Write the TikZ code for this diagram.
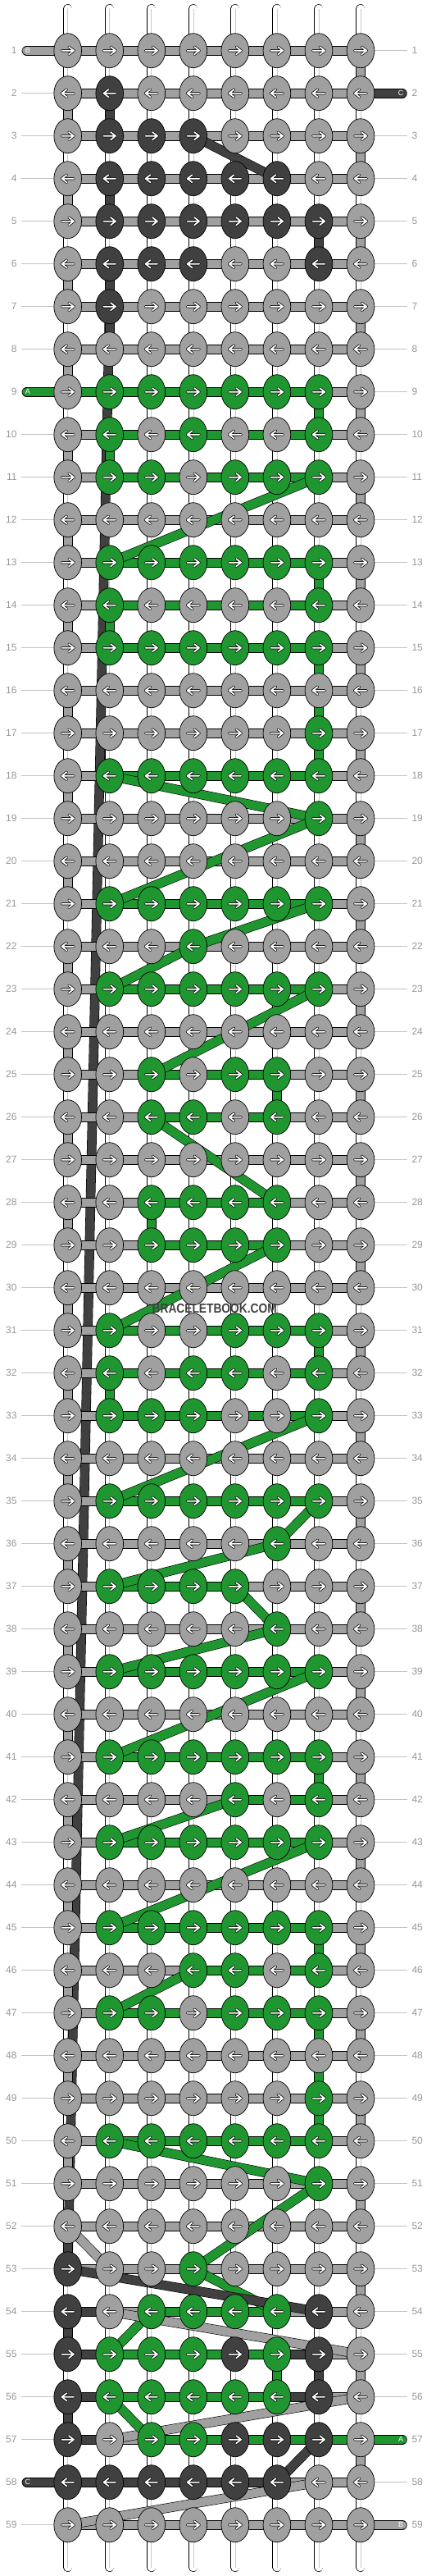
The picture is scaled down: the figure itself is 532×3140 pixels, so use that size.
\documentclass[tikz,border=0pt]{standalone}
\usepackage{fontspec}
\setmainfont{Liberation Sans}
\usetikzlibrary{shapes.geometric}
\definecolor{kg}{RGB}{160,160,160}
\definecolor{kd}{RGB}{64,64,64}
\definecolor{kn}{RGB}{31,150,48}
\definecolor{lblgray}{RGB}{150,150,150}
\definecolor{guide}{RGB}{195,195,195}
\definecolor{wline}{RGB}{200,200,200}
\pgfdeclarelayer{l1}
\pgfdeclarelayer{l2}
\pgfdeclarelayer{l3}
\pgfsetlayers{l1,l2,l3,main}
\begin{document}
\begin{tikzpicture}[x=1pt,y=-1pt,
  knot/.style={ellipse,draw=black,line width=0.7pt,minimum width=33.7pt,minimum height=42pt,inner sep=0pt},
  thr/.style={draw=black,line width=0.6pt,double=#1,double distance=10.4pt},
  lbl/.style={text=lblgray,font=\fontsize{12}{12}\selectfont,inner sep=0pt},
  endtxt/.style={text=white,font=\fontsize{9}{9}\selectfont,inner sep=0pt},
  guideline/.style={draw=guide,line width=1pt},
  warp/.style={draw=black,line width=0.6pt,double=white,double distance=9.8pt,line cap=round},
  arrowout/.style={draw=black,line width=3.2pt,line cap=round,line join=round},
  arrowin/.style={draw=white,line width=1.7pt,line cap=round,line join=round}
]
\useasboundingbox (0,0) rectangle (532,3140);

% warp threads (white verticals)
\begin{pgfonlayer}{l1}
\foreach \i in {1,...,8} {
  \pgfmathsetmacro\xx{82.7+51.04*(\i-1)}
  \coordinate (wt-\i) at (\xx,10.5);
  \coordinate (wb-\i) at (\xx,3129.5);
  \draw[warp] (wt-\i) -- (wb-\i);
  \draw[wline,line width=0.6pt] (wt-\i) -- (wb-\i);
}
\end{pgfonlayer}

% knots, labels and horizontal segments
\foreach \r/\K/\H in {
1/{g,g,g,g,g,g,g,g}/{g,g,g,g,g,g,g},
2/{g,d,g,g,g,g,g,g}/{g,g,g,g,g,g,g},
3/{g,d,d,d,g,g,g,g}/{g,g,g,g,g,g,g},
4/{g,d,d,d,d,d,g,g}/{g,g,g,g,g,g,g},
5/{g,d,d,d,d,d,d,g}/{g,g,g,g,g,g,g},
6/{g,d,d,d,g,g,d,g}/{g,g,g,g,g,g,g},
7/{g,d,g,g,g,g,g,g}/{g,g,g,g,g,g,g},
8/{g,g,g,g,g,g,g,g}/{g,g,g,g,g,g,g},
9/{g,n,n,n,n,n,n,g}/{n,n,n,n,n,n,g},
10/{g,n,g,n,g,g,n,g}/{g,n,n,n,n,n,g},
11/{g,n,n,g,n,n,n,g}/{g,n,n,n,n,n,g},
12/{g,g,g,g,g,g,g,g}/{g,g,g,g,g,g,g},
13/{g,n,n,n,n,n,n,g}/{g,n,n,n,n,n,g},
14/{g,n,g,g,g,g,n,g}/{g,n,n,n,n,n,g},
15/{g,n,n,n,n,n,n,g}/{g,n,n,n,n,n,g},
16/{g,g,g,g,g,g,g,g}/{g,g,g,g,g,g,g},
17/{g,g,g,g,g,g,n,g}/{g,g,g,g,g,g,g},
18/{g,n,n,n,n,n,n,g}/{g,n,n,n,n,n,g},
19/{g,g,g,g,g,g,n,g}/{g,g,g,g,g,g,g},
20/{g,g,g,g,g,g,g,g}/{g,g,g,g,g,g,g},
21/{g,n,n,n,n,n,n,g}/{g,n,n,n,n,n,g},
22/{g,g,g,n,g,g,g,g}/{g,g,g,g,g,g,g},
23/{g,n,n,n,n,n,n,g}/{g,n,n,n,n,n,g},
24/{g,g,g,g,g,g,g,g}/{g,g,g,g,g,g,g},
25/{g,g,n,g,n,n,g,g}/{g,g,n,n,n,g,g},
26/{g,g,n,n,g,n,g,g}/{g,g,n,n,n,g,g},
27/{g,g,g,g,g,g,g,g}/{g,g,g,g,g,g,g},
28/{g,g,n,n,n,n,g,g}/{g,g,n,n,n,g,g},
29/{g,g,n,n,n,n,g,g}/{g,g,n,n,n,g,g},
30/{g,g,g,g,g,g,g,g}/{g,g,g,g,g,g,g},
31/{g,n,g,g,n,n,n,g}/{g,n,n,n,n,n,g},
32/{g,n,g,n,n,g,n,g}/{g,n,n,n,n,n,g},
33/{g,n,n,n,g,g,n,g}/{g,n,n,n,n,n,g},
34/{g,g,g,g,g,g,g,g}/{g,g,g,g,g,g,g},
35/{g,n,n,n,n,n,n,g}/{g,n,n,n,n,n,g},
36/{g,g,g,g,g,n,g,g}/{g,g,g,g,g,g,g},
37/{g,n,n,n,n,g,g,g}/{g,n,n,n,g,g,g},
38/{g,g,g,g,g,n,g,g}/{g,g,g,g,g,g,g},
39/{g,n,n,n,n,n,n,g}/{g,n,n,n,n,n,g},
40/{g,g,g,g,g,g,g,g}/{g,g,g,g,g,g,g},
41/{g,n,n,n,n,n,n,g}/{g,n,n,n,n,n,g},
42/{g,g,g,g,n,g,n,g}/{g,g,g,g,n,n,g},
43/{g,n,n,n,n,n,n,g}/{g,n,n,n,n,n,g},
44/{g,g,g,g,g,g,g,g}/{g,g,g,g,g,g,g},
45/{g,n,n,n,n,n,n,g}/{g,n,n,n,n,n,g},
46/{g,g,g,n,n,g,n,g}/{g,g,g,n,n,n,g},
47/{g,n,n,g,n,n,n,g}/{g,n,n,n,n,n,g},
48/{g,g,g,g,g,g,g,g}/{g,g,g,g,g,g,g},
49/{g,g,g,g,g,g,n,g}/{g,g,g,g,g,g,g},
50/{g,n,n,n,n,n,n,g}/{g,n,n,n,n,n,g},
51/{g,g,g,g,g,g,n,g}/{g,g,g,g,g,g,g},
52/{g,g,g,g,g,g,g,g}/{g,g,g,g,g,g,g},
53/{d,g,g,n,g,g,g,g}/{g,g,g,g,g,g,g},
54/{d,g,n,n,n,n,d,g}/{d,g,n,n,n,g,g},
55/{d,n,n,n,d,n,d,g}/{d,n,n,n,n,d,g},
56/{d,n,n,n,n,n,d,g}/{d,n,n,n,n,d,g},
57/{d,g,n,n,d,d,d,g}/{d,g,n,n,n,n,n},
58/{d,d,d,d,d,d,g,g}/{d,d,d,d,d,g,g},
59/{g,g,g,g,g,g,g,g}/{g,g,g,g,g,g,g}} {
  \pgfmathsetmacro\yy{61.7+52*(\r-1)}
  \ifodd\r\relax \def\dir{1}\else \def\dir{-1}\fi
  \foreach \c [count=\i] in \K {
    \pgfmathsetmacro\xx{82.7+51.04*(\i-1)}
    \node[knot,fill=k\c] (k-\r-\i) at (\xx,\yy) {};
    \begin{scope}[shift={(\xx,\yy)},xscale=\dir]
      \draw[arrowout] (-7.3,0) -- (7.3,0) (1.3,-4.6) -- (7.3,0) -- (1.3,4.6);
      \draw[arrowin] (-7.3,0) -- (7.3,0) (1.3,-4.6) -- (7.3,0) -- (1.3,4.6);
    \end{scope}
  }
  \begin{pgfonlayer}{l2}
  \foreach \h [count=\i] in \H {
    \pgfmathtruncatemacro\j{\i+1}
    \draw[thr=k\h] (k-\r-\i.center) -- (k-\r-\j.center);
  }
  \end{pgfonlayer}
  \begin{pgfonlayer}{l1}
  \node[lbl,anchor=east] (ll-\r) at (20.7,\yy) {\r};
  \node[lbl,anchor=west] (lr-\r) at (502.3,\yy) {\r};
  \coordinate (gl-\r) at (26,\yy);
  \coordinate (gr-\r) at (496.7,\yy);
  \draw[guideline] (gl-\r) -- (k-\r-1.center);
  \draw[guideline] (k-\r-8.center) -- (gr-\r);
  \end{pgfonlayer}
}

% long dark thread behind, then coloured verticals
\begin{pgfonlayer}{l1}
\draw[thr=kd] (k-7-2.center) -- (k-53-1.center);
\end{pgfonlayer}

\begin{pgfonlayer}{l2}
\foreach \r in {1,3,...,57} {
  \pgfmathtruncatemacro\rr{\r+1}
  \draw[thr=kg] (k-\r-8.center) -- (k-\rr-8.center);
}
\foreach \r in {2,4,...,50} {
  \pgfmathtruncatemacro\rr{\r+1}
  \draw[thr=kg] (k-\r-1.center) -- (k-\rr-1.center);
}
\foreach \r/\c/\col in {2/2/d,4/2/d,6/2/d,7/2/d,5/7/d,52/1/d,54/1/d,56/1/d,55/7/d,
  9/7/n,13/7/n,15/7/n,16/7/n,17/7/n,31/7/n,41/7/n,45/7/n,47/7/n,48/7/n,49/7/n,
  10/2/n,14/2/n,32/2/n,25/6/n,55/6/n,28/3/n} {
  \pgfmathtruncatemacro\rr{\r+1}
  \draw[thr=k\col] (k-\r-\c.center) -- (k-\rr-\c.center);
}
% thread ends
\coordinate (eB1) at (32.5,61.7);
\coordinate (eC2) at (490.9,113.7);
\coordinate (eA9) at (32.5,477.7);
\coordinate (eA57) at (490.9,2973.7);
\coordinate (eC58) at (32.5,3025.7);
\coordinate (eB59) at (490.9,3077.7);
\draw[thr=kg,line cap=round] (eB1) -- (k-1-1.center);
\draw[thr=kd,line cap=round] (k-2-8.center) -- (eC2);
\draw[thr=kn,line cap=round] (eA9) -- (k-9-1.center);
\draw[thr=kn,line cap=round] (k-57-8.center) -- (eA57);
\draw[thr=kd,line cap=round] (eC58) -- (k-58-1.center);
\draw[thr=kg,line cap=round] (k-59-8.center) -- (eB59);
\node[endtxt] (tB1) at (33.9,61.7) {B};
\node[endtxt] (tC2) at (489,113.7) {C};
\node[endtxt] (tA9) at (33.9,477.7) {A};
\node[endtxt] (tA57) at (489,2973.7) {A};
\node[endtxt] (tC58) at (33.9,3025.7) {C};
\node[endtxt] (tB59) at (489,3077.7) {B};
\end{pgfonlayer}

% diagonal threads
\begin{pgfonlayer}{l3}
\foreach \a/\b/\cc/\d/\col in {3/4/4/6/d,
  11/7/13/2/n,18/2/19/7/n,19/7/21/2/n,21/7/22/4/n,22/4/23/2/n,23/7/25/3/n,
  26/3/28/6/n,29/6/31/2/n,33/7/35/2/n,35/7/36/6/n,36/6/37/2/n,37/5/38/6/n,
  38/6/39/2/n,39/7/41/2/n,42/5/43/2/n,43/7/45/2/n,46/4/47/2/n,50/2/51/7/n,
  51/7/53/4/n,53/4/54/6/n,53/1/54/7/d,52/1/53/2/g,54/3/55/2/n,54/2/55/8/g,
  56/8/57/2/g,56/2/57/3/n,57/7/58/6/d,58/7/59/1/g} {
  \draw[thr=k\col] (k-\a-\b.center) -- (k-\cc-\d.center);
}
\end{pgfonlayer}

% watermark
\node[font=\bfseries\fontsize{16}{16}\selectfont,text=kd,xscale=0.86,inner sep=0pt] (wm) at (261.7,1595.3) {BRACELETBOOK.COM};
\end{tikzpicture}
\end{document}
